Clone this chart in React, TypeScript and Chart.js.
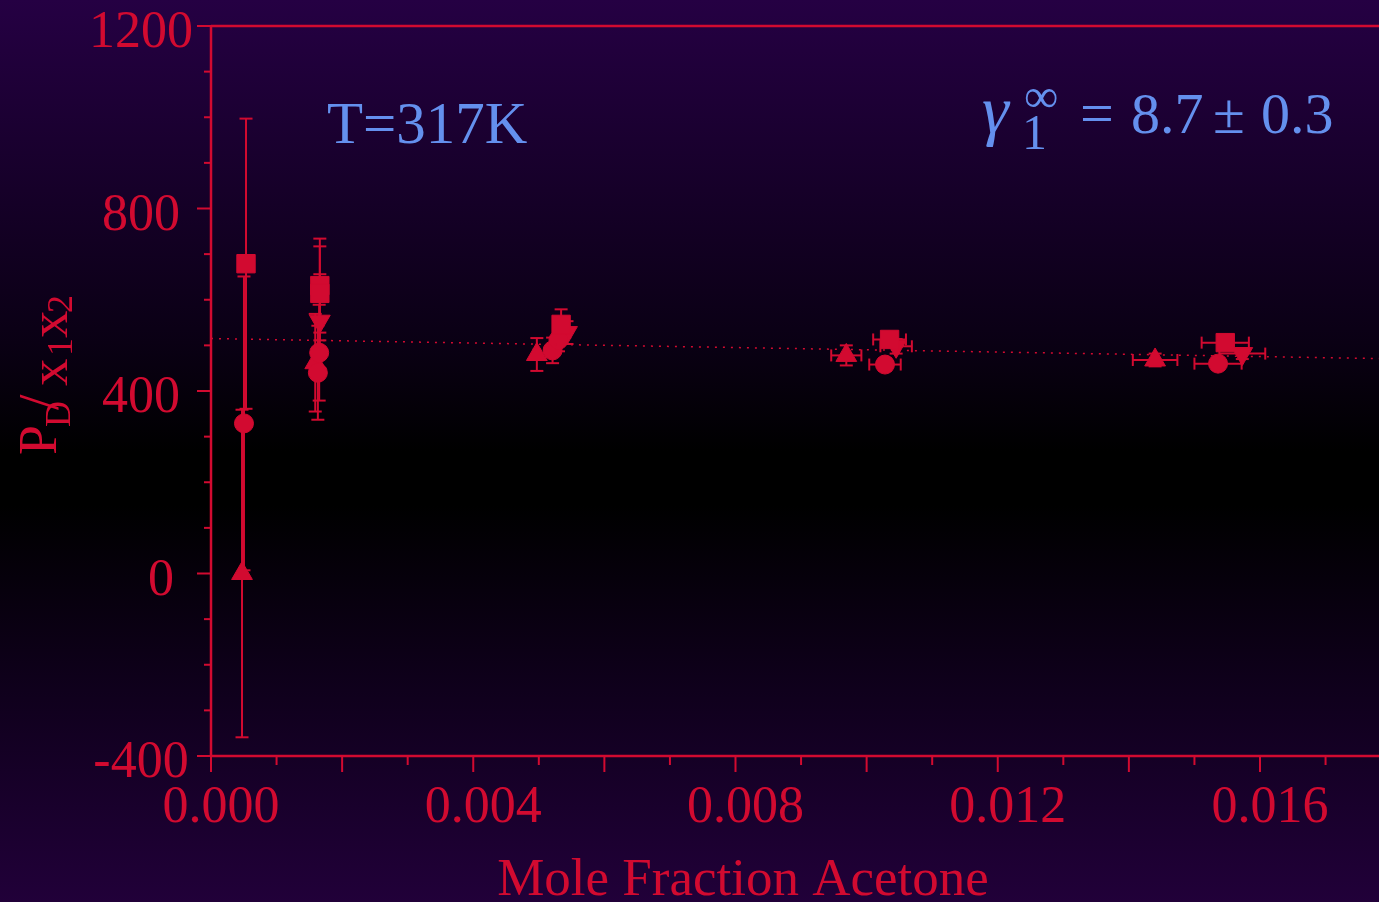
import React, { useEffect, useRef } from "react";
import { Chart, registerables } from "chart.js";

Chart.register(...registerables);

const RED = "#d20a30";
const BLUE = "#6490ee";
const FONT = '"Liberation Serif", "Times New Roman", serif';

// Axis ranges and tick labels
const X_MIN = 0;
const X_MAX = 0.017815;
const Y_MIN = -400;
const Y_MAX = 1200;
const xTickValues = [0, 0.004, 0.008, 0.012, 0.016];
const xTickLabels = ["0.000", "0.004", "0.008", "0.012", "0.016"];
const yTickValues = [-400, 0, 400, 800, 1200];
const yTickLabels = ["-400", "0", "400", "800", "1200"];

// Series: squares
const squareX = [0.000534, 0.00166, 0.00166, 0.00534, 0.01035, 0.01547];
const squareY = [679, 631, 614, 546, 513, 506];
const squareYErr = [318, 103, 103, 33, 12, 12];
const squareXErr = [0, 0, 0, 0.00005, 0.00025, 0.00036];

// Series: circles
const circleX = [0.000503, 0.00165, 0.00163, 0.00521, 0.0053, 0.01028, 0.01536];
const circleY = [329, 484, 440, 489, 512, 458, 460];
const circleYErr = [322, 105, 103, 28, 25, 14, 12];
const circleXErr = [0, 0, 0, 0.00005, 0.00005, 0.00024, 0.00036];

// Series: up triangles
const upTriX = [0.000473, 0.00159, 0.00497, 0.00969, 0.0144];
const upTriY = [0, 462, 480, 478, 468];
const upTriYErr = [359, 107, 36, 22, 14];
const upTriXErr = [0, 0, 0.00005, 0.00023, 0.00034];

// Series: down triangles
const downTriX = [0.00166, 0.00543, 0.01045, 0.01573];
const downTriY = [553, 528, 498, 482];
const downTriYErr = [103, 25, 16, 12];
const downTriXErr = [0, 0.00005, 0.00024, 0.00035];

// Fit line
const fitX = [0, 0.017815];
const fitY = [515, 471];

const SERIES = [
  { x: squareX, y: squareY, xErr: squareXErr, yErr: squareYErr, style: "rect", radius: 13, rotation: 0 },
  { x: circleX, y: circleY, xErr: circleXErr, yErr: circleYErr, style: "circle", radius: 9.5, rotation: 0 },
  { x: upTriX, y: upTriY, xErr: upTriXErr, yErr: upTriYErr, style: "triangle", radius: 12, rotation: 0 },
  { x: downTriX, y: downTriY, xErr: downTriXErr, yErr: downTriYErr, style: "triangle", radius: 12, rotation: 180 },
];

const errorBarPlugin = {
  id: "errorBars",
  beforeDatasetsDraw(chart: any) {
    const { ctx, scales } = chart;
    const xs = scales.x;
    const ys = scales.y;
    ctx.save();
    ctx.strokeStyle = RED;
    ctx.lineWidth = 2;
    const seg = (a: number, b: number, c: number, d: number) => {
      ctx.beginPath();
      ctx.moveTo(a, b);
      ctx.lineTo(c, d);
      ctx.stroke();
    };
    SERIES.forEach((s) => {
      s.x.forEach((xv, i) => {
        const yv = s.y[i];
        const px = xs.getPixelForValue(xv);
        const py = ys.getPixelForValue(yv);
        const ye = s.yErr[i];
        const xe = s.xErr[i];
        if (ye > 0) {
          const t = ys.getPixelForValue(yv + ye);
          const b = ys.getPixelForValue(yv - ye);
          seg(px, t, px, b);
          seg(px - 6.5, t, px + 6.5, t);
          seg(px - 6.5, b, px + 6.5, b);
        }
        if (xe > 0) {
          const l = xs.getPixelForValue(xv - xe);
          const r = xs.getPixelForValue(xv + xe);
          seg(l, py, r, py);
          seg(l, py - 6, l, py + 6);
          seg(r, py - 6, r, py + 6);
        }
      });
    });
    ctx.restore();
  },
};

const axesPlugin = {
  id: "customAxes",
  afterDraw(chart: any) {
    const { ctx, scales, chartArea } = chart;
    const xs = scales.x;
    const ys = scales.y;
    const { left, right, top, bottom } = chartArea;
    ctx.save();
    ctx.strokeStyle = RED;
    ctx.fillStyle = RED;
    ctx.lineWidth = 2.5;
    const seg = (a: number, b: number, c: number, d: number) => {
      ctx.beginPath();
      ctx.moveTo(a, b);
      ctx.lineTo(c, d);
      ctx.stroke();
    };
    // frame lines
    seg(left, top, left, bottom);
    seg(left, bottom, right, bottom);
    seg(left, top, right, top);
    ctx.lineWidth = 2;
    // x ticks
    for (let k = 0; k <= 17; k++) {
      const px = xs.getPixelForValue(k * 0.001);
      const len = k % 2 === 0 ? 16 : 9;
      seg(px, bottom, px, bottom + len);
    }
    // y ticks
    for (let k = -4; k <= 12; k++) {
      const py = ys.getPixelForValue(k * 100);
      const len = k % 4 === 0 ? 14 : 7;
      seg(left - len, py, left, py);
    }
    // tick labels
    ctx.font = `52px ${FONT}`;
    ctx.textAlign = "center";
    ctx.textBaseline = "alphabetic";
    xTickValues.forEach((v, i) => {
      ctx.fillText(xTickLabels[i], xs.getPixelForValue(v) + 10, 822);
    });
    yTickValues.forEach((v, i) => {
      const cx = yTickLabels[i] === "0" ? 161 : 141;
      ctx.fillText(yTickLabels[i], cx, ys.getPixelForValue(v) + 21);
    });
    // x title
    ctx.font = `53px ${FONT}`;
    ctx.fillText("Mole Fraction Acetone", 743, 895);
    // y title (rotated)
    ctx.save();
    ctx.translate(0, 460);
    ctx.rotate(-Math.PI / 2);
    ctx.textAlign = "left";
    const part = (t: string, size: number, u: number, v: number) => {
      ctx.font = `${size}px ${FONT}`;
      ctx.fillText(t, u, v);
    };
    part("P", 54, 5, 56);
    part("D", 36, 33, 70);
    part("/", 56, 50, 58);
    part("x", 55, 74, 67);
    part("1", 36, 104, 72);
    part("x", 55, 122, 67);
    part("2", 36, 147, 72);
    ctx.restore();
    // annotations
    ctx.fillStyle = BLUE;
    ctx.textAlign = "left";
    ctx.font = `59px ${FONT}`;
    ctx.fillText("T=317K", 327, 143);
    ctx.font = `italic 68px ${FONT}`;
    ctx.fillText("\u03b3", 982, 133);
    ctx.font = `50px ${FONT}`;
    ctx.fillText("1", 1022, 149);
    ctx.font = `48px ${FONT}`;
    ctx.fillText("\u221e", 1024, 112);
    ctx.font = `60px ${FONT}`;
    ctx.fillText("=", 1080, 133);
    ctx.font = `58px ${FONT}`;
    ctx.fillText("8.7", 1131, 133);
    ctx.fillText("\u00b1", 1213, 133);
    ctx.fillText("0.3", 1261, 133);
    ctx.restore();
  },
};

export default function App() {
  const ref = useRef<HTMLCanvasElement | null>(null);
  useEffect(() => {
    if (!ref.current) return;
    const datasets: any[] = SERIES.map((s, idx) => ({
      type: "scatter",
      label: `Series ${idx + 1}`,
      data: s.x.map((xv, i) => ({ x: xv, y: s.y[i] })),
      pointStyle: s.style,
      pointRadius: s.radius,
      pointRotation: s.rotation,
      pointBackgroundColor: RED,
      pointBorderColor: RED,
      pointBorderWidth: 1,
      pointHoverRadius: s.radius,
    }));
    datasets.unshift({
      type: "line",
      label: "Fit",
      data: fitX.map((xv, i) => ({ x: xv, y: fitY[i] })),
      borderColor: RED,
      borderWidth: 1.5,
      borderDash: [2, 6],
      pointRadius: 0,
      fill: false,
    });
    const chart = new Chart(ref.current, {
      type: "scatter",
      data: { datasets },
      options: {
        responsive: false,
        animation: false,
        devicePixelRatio: 1,
        layout: { autoPadding: false, padding: { top: 26, right: 0, left: 0, bottom: 0 } },
        plugins: { legend: { display: false }, tooltip: { enabled: false } },
        scales: {
          x: {
            type: "linear",
            min: X_MIN,
            max: X_MAX,
            grid: { display: false },
            border: { display: false },
            ticks: { display: false },
            afterFit: (s: any) => {
              s.height = 146;
            },
          },
          y: {
            type: "linear",
            min: Y_MIN,
            max: Y_MAX,
            grid: { display: false },
            border: { display: false },
            ticks: { display: false },
            afterFit: (s: any) => {
              s.width = 211;
            },
          },
        },
      } as any,
      plugins: [errorBarPlugin, axesPlugin],
    });
    return () => chart.destroy();
  }, []);
  return (
    <div
      style={{
        position: "fixed",
        left: 0,
        top: 0,
        width: 1379,
        height: 902,
        background:
          "linear-gradient(180deg, #250043 0%, #0a0014 38%, #000000 50%, #000000 56%, #0e001a 75%, #210039 100%)",
      }}
    >
      <canvas ref={ref} width={1379} height={902} style={{ display: "block" }} />
    </div>
  );
}
